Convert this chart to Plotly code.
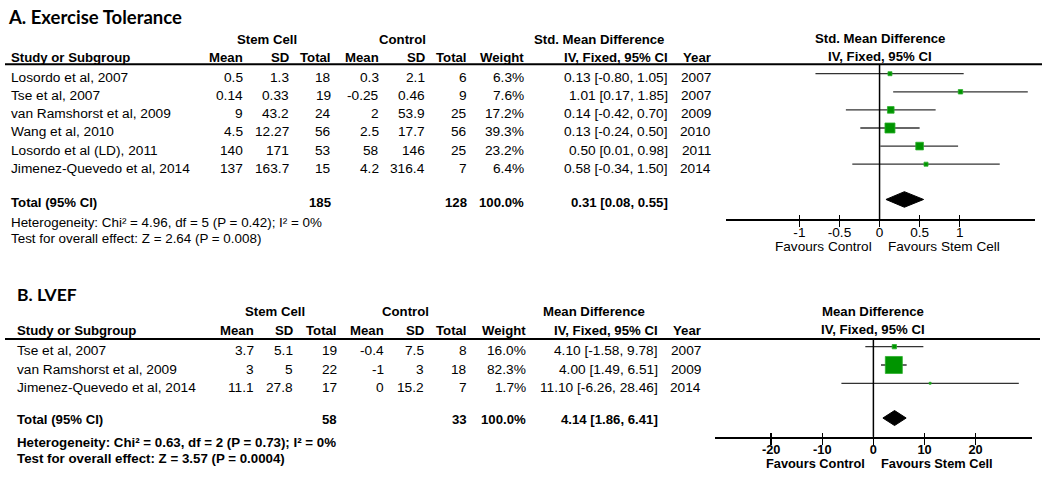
import plotly.graph_objects as go

W, H = 1050, 486

# ---------------- Panel A : Exercise Tolerance ----------------
a_title = "A. Exercise Tolerance"
a_studies = ["Losordo et al, 2007", "Tse et al, 2007", "van Ramshorst et al, 2009",
             "Wang et al, 2010", "Losordo et al (LD), 2011", "Jimenez-Quevedo et al, 2014"]
a_sc_mean = [0.5, 0.14, 9, 4.5, 140, 137]
a_sc_sd = [1.3, 0.33, 43.2, 12.27, 171, 163.7]
a_sc_n = [18, 19, 24, 56, 53, 15]
a_ct_mean = [0.3, -0.25, 2, 2.5, 58, 4.2]
a_ct_sd = [2.1, 0.46, 53.9, 17.7, 146, 316.4]
a_ct_n = [6, 9, 25, 56, 25, 7]
a_weight = [6.3, 7.6, 17.2, 39.3, 23.2, 6.4]
a_est = [0.13, 1.01, 0.14, 0.13, 0.50, 0.58]
a_lo = [-0.80, 0.17, -0.42, -0.24, 0.01, -0.34]
a_hi = [1.05, 1.85, 0.70, 0.50, 0.98, 1.50]
a_year = [2007, 2007, 2009, 2010, 2011, 2014]
a_total_sc, a_total_ct, a_total_w = 185, 128, 100.0
a_total_est, a_total_lo, a_total_hi = 0.31, 0.08, 0.55
a_het = "Heterogeneity: Chi² = 4.96, df = 5 (P = 0.42); I² = 0%"
a_test = "Test for overall effect: Z = 2.64 (P = 0.008)"
a_effect = ["Std. Mean Difference", "IV, Fixed, 95% CI"]
a_ticks = [-1, -0.5, 0, 0.5, 1]
a_tick_labels = ["-1", "-0.5", "0", "0.5", "1"]

# ---------------- Panel B : LVEF ----------------
b_title = "B. LVEF"
b_studies = ["Tse et al, 2007", "van Ramshorst et al, 2009", "Jimenez-Quevedo et al, 2014"]
b_sc_mean = [3.7, 3, 11.1]
b_sc_sd = [5.1, 5, 27.8]
b_sc_n = [19, 22, 17]
b_ct_mean = [-0.4, -1, 0]
b_ct_sd = [7.5, 3, 15.2]
b_ct_n = [8, 18, 7]
b_weight = [16.0, 82.3, 1.7]
b_est = [4.10, 4.00, 11.10]
b_lo = [-1.58, 1.49, -6.26]
b_hi = [9.78, 6.51, 28.46]
b_year = [2007, 2009, 2014]
b_total_sc, b_total_ct, b_total_w = 58, 33, 100.0
b_total_est, b_total_lo, b_total_hi = 4.14, 1.86, 6.41
b_het = "Heterogeneity: Chi² = 0.63, df = 2 (P = 0.73); I² = 0%"
b_test = "Test for overall effect: Z = 3.57 (P = 0.0004)"
b_effect = ["Mean Difference", "IV, Fixed, 95% CI"]
b_ticks = [-20, -10, 0, 10, 20]
b_tick_labels = ["-20", "-10", "0", "10", "20"]

favour_labels = ["Favours Control", "Favours Stem Cell"]

FONT = "Liberation Sans, Arial, sans-serif"
TITLE_FONT = "Lato, Liberation Sans, sans-serif"
SQ_FILL = "#009400"
SQ_EDGE = "#2bb02b"

fig = go.Figure()
annotations = []
shapes = []


def fmt(v):
    return str(v)


def ci_text(e, lo, hi):
    return f"{e:.2f} [{lo:.2f}, {hi:.2f}]"


def row_to_paper(g, r):
    top, bot = g["ydom"]
    ppr = (bot - top) / (g["yrange"][0] - g["yrange"][1])
    pix = top + (r - g["yrange"][1]) * ppr
    return 1 - pix / H


def panel(ax, g, d):
    xa = "x" if ax == 1 else f"x{ax}"
    ya = "y" if ax == 1 else f"y{ax}"
    px = lambda p: p / W

    def txt(x, r, s, anchor="right", bold=False, size=13.7, family=FONT, xref="paper", xshift=0):
        annotations.append(dict(
            x=x, y=row_to_paper(g, r), xref=xref, yref="paper",
            text=(f"<b>{s}</b>" if bold else s), showarrow=False, xanchor=anchor,
            yanchor="middle", xshift=xshift,
            font=dict(family=family, size=size, color="#000")))

    n = len(d["studies"])
    rows = list(range(n))
    tr = g["total_row"]
    # --- title & headers
    txt(px(g["title_x"]), g["title_y"], d["title"], "left", True, g["title_size"], TITLE_FONT)
    txt(px(g["sc_c"]), -1.9, "Stem Cell", "center", True, 13.2)
    txt(px(g["ct_c"]), -1.9, "Control", "center", True, 13.2)
    txt(px(g["eff_c"]), -1.9, d["effect"][0], "center", True, 13.2)
    heads = [("Study or Subgroup", g["name_x"], "left"), ("Mean", g["c"][0], "right"),
             ("SD", g["c"][1], "right"), ("Total", g["c"][2], "right"),
             ("Mean", g["c"][3], "right"), ("SD", g["c"][4], "right"),
             ("Total", g["c"][5], "right"), ("Weight", g["c"][6], "right"),
             (d["effect"][1], g["c"][7], "right"), ("Year", g["c"][8], "right")]
    for s, xp, an in heads:
        txt(px(xp), -0.88, s, an, True, 13.2)
    # forest header
    txt(0, -1.95, d["effect"][0], "center", True, 13.2, xref=xa)
    txt(0, -0.93, d["effect"][1], "center", True, 13.2, xref=xa)
    # --- study rows
    for i in rows:
        y = i + g["dy"]
        txt(px(g["name_x"]), y, d["studies"][i], "left")
        vals = [fmt(d["sc_mean"][i]), fmt(d["sc_sd"][i]), fmt(d["sc_n"][i]),
                fmt(d["ct_mean"][i]), fmt(d["ct_sd"][i]), fmt(d["ct_n"][i]),
                f"{d['weight'][i]:.1f}%", ci_text(d["est"][i], d["lo"][i], d["hi"][i]),
                fmt(d["year"][i])]
        for v, xp in zip(vals, g["c"]):
            txt(px(xp), y, v, "right")
    # --- total row
    yt = tr + g["tdy"]
    txt(px(g["name_x"]), yt, "Total (95% CI)", "left", True, 13.2)
    txt(px(g["c"][2]), yt, fmt(d["total_sc"]), "right", True, 13.2)
    txt(px(g["c"][5]), yt, fmt(d["total_ct"]), "right", True, 13.2)
    txt(px(g["c"][6]), yt, f"{d['total_w']:.1f}%", "right", True, 13.2)
    txt(px(g["c"][7]), yt, ci_text(d["total_est"], d["total_lo"], d["total_hi"]), "right", True, 13.2)
    hb = g["het_bold"]
    txt(px(g["name_x"]), g["het_y"], d["het"], "left", hb, 13.3 if hb else 13.4)
    txt(px(g["name_x"]), g["test_y"], d["test"], "left", hb, 13.3 if hb else 13.4)
    # favours labels
    fb = g["fav_bold"]
    fs = 12.8 if fb else 13.6
    txt(0, g["fav_y"], favour_labels[0], "right", fb, fs, xref=xa, xshift=-6)
    txt(0, g["fav_y"], favour_labels[1], "left", fb, fs, xref=xa, xshift=6)
    # --- rules and zero line
    shapes.append(dict(type="line", xref="paper", yref=f"{ya} domain", x0=px(g["rule"][0]),
                       x1=px(g["rule"][1]), y0=1, y1=1, line=dict(color="#000", width=2)))
    shapes.append(dict(type="line", xref=xa, yref=f"{ya} domain", x0=0, x1=0, y0=0, y1=1,
                       line=dict(color="#000", width=1.5)))
    # --- markers with CIs
    wmax = max(d["weight"])
    sizes = [max(2.0, g["smax"] * (w / wmax) ** g["sexp"]) for w in d["weight"]]
    fig.add_trace(go.Scatter(
        x=d["est"], y=rows, xaxis=xa, yaxis=ya, mode="markers",
        marker=dict(symbol="square", size=sizes, color=SQ_FILL, opacity=1,
                    line=dict(color=SQ_EDGE, width=0.8)),
        error_x=dict(type="data", symmetric=False,
                     array=[h - e for h, e in zip(d["hi"], d["est"])],
                     arrayminus=[e - l for e, l in zip(d["est"], d["lo"])],
                     width=0, thickness=1.3, color="#333"),
        showlegend=False, hoverinfo="skip"))
    # --- diamond
    hh = g["dh"]
    fig.add_trace(go.Scatter(
        x=[d["total_lo"], d["total_est"], d["total_hi"], d["total_est"], d["total_lo"]],
        y=[tr, tr - hh, tr, tr + hh, tr], xaxis=xa, yaxis=ya, mode="lines",
        fill="toself", fillcolor="#000", line=dict(color="#000", width=1),
        showlegend=False, hoverinfo="skip"))
    xaxis = dict(domain=[px(g["xdom"][0]), px(g["xdom"][1])], range=g["xrange"], anchor=ya,
                 tickvals=d["ticks"], ticktext=d["tick_labels"], showline=True, linecolor="#000",
                 linewidth=2, ticks="inside", ticklen=4, tickwidth=1.5, tickcolor="#000",
                 minor=dict(tickvals=d["ticks"], ticks="outside", ticklen=6, tickwidth=1.5,
                            tickcolor="#000", showgrid=False),
                 showgrid=False, zeroline=False, fixedrange=True,
                 tickfont=dict(family=FONT, size=(12.8 if fb else 13.6), color="#000",
                               weight=("bold" if fb else "normal")))
    yaxis = dict(domain=[1 - g["ydom"][1] / H, 1 - g["ydom"][0] / H], range=g["yrange"],
                 visible=False, fixedrange=True)
    return xaxis, yaxis


A = dict(title=a_title, studies=a_studies, sc_mean=a_sc_mean, sc_sd=a_sc_sd, sc_n=a_sc_n,
         ct_mean=a_ct_mean, ct_sd=a_ct_sd, ct_n=a_ct_n, weight=a_weight, est=a_est, lo=a_lo,
         hi=a_hi, year=a_year, total_sc=a_total_sc, total_ct=a_total_ct, total_w=a_total_w,
         total_est=a_total_est, total_lo=a_total_lo, total_hi=a_total_hi, het=a_het,
         test=a_test, effect=a_effect, ticks=a_ticks, tick_labels=a_tick_labels)
B = dict(title=b_title, studies=b_studies, sc_mean=b_sc_mean, sc_sd=b_sc_sd, sc_n=b_sc_n,
         ct_mean=b_ct_mean, ct_sd=b_ct_sd, ct_n=b_ct_n, weight=b_weight, est=b_est, lo=b_lo,
         hi=b_hi, year=b_year, total_sc=b_total_sc, total_ct=b_total_ct, total_w=b_total_w,
         total_est=b_total_est, total_lo=b_total_lo, total_hi=b_total_hi, het=b_het,
         test=b_test, effect=b_effect, ticks=b_ticks, tick_labels=b_tick_labels)

gA = dict(title_x=6, title_y=-3.15, title_size=18.5, name_x=8.5, sc_c=267, ct_c=402.7, eff_c=598.5,
          c=[245, 291, 333, 381, 426.7, 469, 525.7, 670, 712.7],
          dy=0.22, total_row=6.95, tdy=0.15, het_y=8.22, test_y=9.12, het_bold=False,
          fav_y=9.55, fav_bold=False, rule=(5, 1042), smax=10, sexp=0.5, dh=0.43,
          xdom=(725.7, 1035), xrange=[-1.92, 1.94], ydom=(64.3, 219), yrange=[8.03, -0.52])
gB = dict(title_x=15, title_y=-2.83, title_size=17.5, name_x=15, sc_c=274.7, ct_c=405.3, eff_c=593.8,
          c=[256, 295, 339, 386, 426, 469, 527.7, 660, 702.7],
          dy=0.22, total_row=3.9, tdy=0.1, het_y=5.22, test_y=6.1, het_bold=True,
          fav_y=6.4, fav_bold=True, rule=(5, 1040), smax=17, sexp=0.84, dh=0.41,
          xdom=(715, 1032.3), xrange=[-31, 31.1], ydom=(339, 436.7), yrange=[4.92, -0.42])

xa1, ya1 = panel(1, gA, A)
xa2, ya2 = panel(2, gB, B)

fig.update_layout(
    width=W, height=H, margin=dict(l=0, r=0, t=0, b=0, pad=0), autosize=False,
    paper_bgcolor="#fff", plot_bgcolor="rgba(0,0,0,0)",
    xaxis=xa1, yaxis=ya1, xaxis2=xa2, yaxis2=ya2,
    annotations=annotations, shapes=shapes, showlegend=False,
)

fig.write_html("out.html", config={"displayModeBar": False, "staticPlot": True},
               post_script="document.body.style.margin='0px';")
